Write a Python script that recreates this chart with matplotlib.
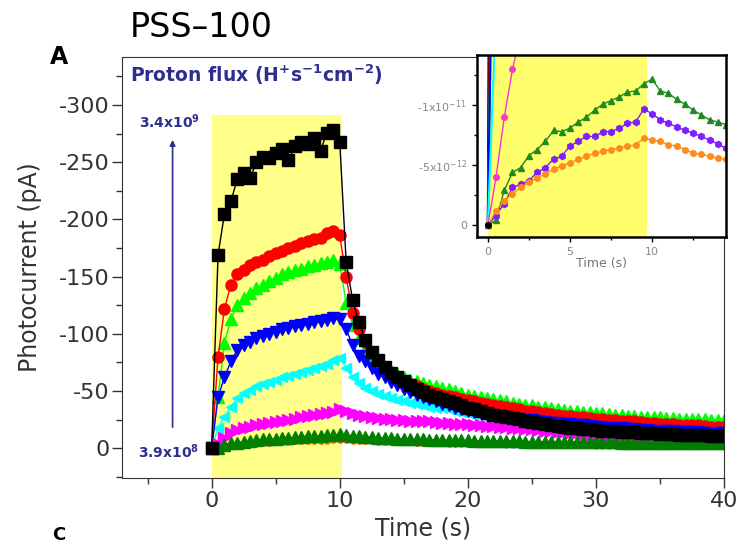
import numpy as np
import matplotlib
matplotlib.use('Agg')
import matplotlib.pyplot as plt
from matplotlib.ticker import MultipleLocator, FixedLocator

plt.rcParams['axes.unicode_minus'] = False
plt.rcParams['mathtext.default'] = 'regular'

# time grid (s), one sample every 0.5 s
time_s = np.arange(0, 40.5, 0.5)

# photocurrent (pA), one list per proton flux
black = [0, -169, -205, -216, -235, -241, -236, -250, -255, -254,
         -258, -262, -252, -264, -268, -266, -271, -260, -276, -278,
         -268, -163, -130, -110, -95, -84, -77, -71, -66, -62,
         -58.5, -55, -52, -49.5, -47, -45, -43.5, -41.5, -39.5, -37.5,
         -35.5, -34, -32.5, -31, -29.5, -28.5, -27.5, -26.5, -25.5, -24,
         -23, -22, -21, -20.5, -19.5, -19, -18, -17.5, -17, -16.5,
         -16, -15.5, -15.5, -15, -14.5, -14, -14, -13.5, -13, -13,
         -12.5, -12.5, -12.5, -12, -12, -12, -11.5, -11.5, -11, -11, -11]
red = [0, -80, -122, -143, -152, -156, -160, -163, -165, -168,
       -171, -172, -175, -177, -179, -181, -183, -184, -188, -190,
       -186, -150, -118, -104, -93, -83, -76, -70, -65, -61,
       -58, -56, -54, -52, -50, -48.5, -47, -45.5, -44.5, -43,
       -42, -41, -40, -39, -38, -37, -36, -35, -34, -33,
       -32.5, -31.5, -31, -30, -29.5, -28.5, -28, -27.5, -27, -26.5,
       -26, -25.5, -25, -24.5, -24, -23.5, -23.5, -23, -22.5, -22,
       -21.5, -21.5, -21, -20.5, -20.5, -20, -20, -19.5, -19, -19, -18.5]
green = [0, -45, -92, -113, -125, -131, -136, -140, -143, -146,
         -149, -152, -154, -156, -157, -159, -160, -162, -163, -165,
         -161, -127, -108, -96, -87, -80, -75, -71, -67.5, -64.5,
         -62, -60, -58.5, -57, -55.5, -54.5, -53, -51.5, -50, -48.5,
         -47, -46, -45, -44, -43, -42, -41, -40, -39, -38,
         -37.5, -36.5, -36, -35, -34.5, -33.5, -33, -32.5, -32, -31.5,
         -31, -30.5, -30, -29.5, -29, -28.5, -28, -27.5, -27.5, -27,
         -27, -26.5, -26.5, -26, -26, -25.5, -25.5, -25.5, -25, -25, -25]
blue = [0, -45, -62, -76, -86, -90, -93, -96, -98, -100,
        -102, -104, -105, -107, -108, -109, -110, -111, -112, -114,
        -113, -104, -90, -81, -76, -70, -65, -62, -58, -55,
        -52, -49.5, -47, -45, -43, -41, -39, -37.5, -35.5, -34,
        -33, -32, -31, -30, -29, -28, -27.5, -26.5, -26, -25,
        -24.5, -24, -23, -22.5, -22, -21.5, -21, -20.5, -20, -19.5,
        -19, -18.5, -18, -17.5, -17.5, -17, -16.5, -16, -16, -15.5,
        -15.5, -15, -15, -14.5, -14.5, -14, -14, -13.5, -13.5, -13, -13]
cyan = [0, -18, -27, -36, -44, -48, -51, -54, -56, -58,
        -60, -62, -63.5, -65, -66.5, -68, -70, -72, -74, -77,
        -79, -70, -62, -57, -53, -50, -47.5, -45.5, -44, -42.5,
        -41, -39.5, -38.5, -37.5, -36.5, -35.5, -35, -34, -33, -32,
        -31, -30, -29, -28, -27, -26, -25, -24.5, -23.5, -23,
        -22, -21.5, -21, -20.5, -20, -19.5, -19, -18.5, -18, -17.5,
        -17, -16.5, -16, -15.5, -15.5, -15, -14.5, -14.5, -14, -14,
        -13.5, -13.5, -13, -13, -12.5, -12.5, -12, -12, -11.5, -11.5, -11]
magenta = [0, -4, -9, -13, -16, -17.5, -19, -20, -21, -22,
           -23, -24, -25, -26, -27, -28, -29, -30, -31, -32,
           -34, -33, -31, -29.5, -28.5, -27.5, -26.5, -26, -25.5, -25,
           -24.5, -24, -24, -23.5, -23.5, -23, -22.5, -22, -21.5, -21,
           -21, -20.5, -20, -19.5, -19.5, -19, -18.5, -18, -17.5, -17,
           -16.5, -16, -15.5, -15, -14.5, -14, -13.5, -13, -12.5, -12,
           -11.5, -11, -10.5, -10, -9.5, -9, -8.5, -8, -8, -7.5,
           -7.5, -7, -7, -7, -6.5, -6.5, -6.5, -6, -6, -6, -6]
dkgreen = [0, -0.4, -2.9, -4.4, -4.8, -5.8, -6.3, -7.0, -7.9, -7.8,
           -8.1, -8.6, -9.0, -9.6, -10.1, -10.4, -10.7, -11.1, -11.2, -11.8,
           -12.2, -11.2, -11.0, -10.5, -10.1, -9.6, -9.2, -8.8, -8.6, -8.4,
           -8.2, -8.0, -7.9, -7.7, -7.6, -7.4, -7.3, -7.1, -7.0, -6.9,
           -6.8, -6.7, -6.6, -6.5, -6.4, -6.3, -6.2, -6.1, -6.0, -5.9,
           -5.8, -5.8, -5.7, -5.6, -5.6, -5.5, -5.4, -5.4, -5.3, -5.3,
           -5.2, -5.2, -5.1, -5.1, -5.0, -5.0, -4.9, -4.9, -4.8, -4.8,
           -4.7, -4.7, -4.6, -4.6, -4.5, -4.5, -4.4, -4.4, -4.3, -4.3, -4.3]
purple = [0, -0.8, -1.8, -3.15, -3.4, -3.7, -4.4, -4.8, -5.5, -5.75,
          -6.6, -7.0, -7.4, -7.4, -7.8, -7.8, -8.1, -8.5, -8.6, -9.7,
          -9.3, -8.8, -8.5, -8.2, -7.9, -7.7, -7.4, -7.1, -6.8, -6.4,
          -6.2, -6.0, -5.8, -5.6, -5.5, -5.3, -5.2, -5.0, -4.9, -4.8,
          -4.7, -4.6, -4.5, -4.4, -4.3, -4.2, -4.1, -4.0, -3.9, -3.9,
          -3.8, -3.7, -3.7, -3.6, -3.5, -3.5, -3.4, -3.4, -3.3, -3.3,
          -3.2, -3.2, -3.1, -3.1, -3.0, -3.0, -3.0, -2.9, -2.9, -2.9,
          -2.8, -2.8, -2.8, -2.7, -2.7, -2.7, -2.6, -2.6, -2.6, -2.5, -2.5]
orange = [0, -1.2, -2.05, -2.6, -3.15, -3.56, -3.97, -4.25, -4.66, -4.93,
          -5.2, -5.48, -5.75, -6.0, -6.16, -6.3, -6.44, -6.58, -6.7, -7.26,
          -7.1, -7.0, -6.7, -6.6, -6.3, -6.0, -5.9, -5.75, -5.6, -5.5,
          -5.3, -5.2, -5.0, -4.9, -4.8, -4.6, -4.5, -4.4, -4.3, -4.2,
          -4.1, -4.0, -3.9, -3.8, -3.7, -3.6, -3.6, -3.5, -3.4, -3.4,
          -3.3, -3.2, -3.2, -3.1, -3.1, -3.0, -3.0, -2.9, -2.9, -2.8,
          -2.8, -2.8, -2.7, -2.7, -2.6, -2.6, -2.6, -2.5, -2.5, -2.5,
          -2.4, -2.4, -2.4, -2.3, -2.3, -2.3, -2.2, -2.2, -2.2, -2.1, -2.1]

# light on / off (s)
light_on = 0
light_off = 10.2
light_off_inset = 9.7
light_box_top = -291

flux_high = '3.4x10$^9$'
flux_low = '3.9x10$^8$'
arrow_x, arrow_from, arrow_to = -3.05, -16, -272

navy = '#2E2E8F'
gray = '#333333'

# series drawn in this order: (values, colour, marker, size)
series = [
    (green, '#00FF00', '^', 8),
    (red, '#FF0000', 'o', 8),
    (cyan, '#00FFFF', '<', 7.5),
    (blue, '#0000FF', 'v', 8),
    (magenta, '#FF00FF', '>', 8.5),
    (orange, '#FF8000', 'o', 4),
    (purple, '#7F00FF', 'h', 5),
    (dkgreen, '#007F00', '^', 8.5),
    (black, '#000000', 's', 9),
]

fig = plt.figure(figsize=(7.37, 5.45), dpi=100)
ax = fig.add_axes([0.1655, 0.1229, 0.8169, 0.7725])

ax.fill_between([light_on, light_off], 40, light_box_top, color='#FFFF8A', lw=0, zorder=0)
for vals, col, mk, ms in series:
    ax.plot(time_s, vals, color=col, marker=mk, ms=ms, mec=col, mfc=col, lw=1)

ax.set_xlim(-7, 40)
ax.set_ylim(26, -342)
ax.xaxis.set_major_locator(MultipleLocator(10))
ax.xaxis.set_minor_locator(MultipleLocator(5))
ax.yaxis.set_major_locator(FixedLocator([0, -50, -100, -150, -200, -250, -300]))
ax.yaxis.set_minor_locator(MultipleLocator(25))
ax.tick_params(which='both', direction='out', colors=gray, labelsize=16, width=1)
ax.tick_params(which='major', length=7, pad=2)
ax.tick_params(which='minor', length=4)
for sp in ax.spines.values():
    sp.set_color(gray)
ax.set_xlabel('Time (s)', fontsize=17, color=gray, labelpad=4)
ax.set_ylabel('Photocurrent (pA)', fontsize=17, color=gray, labelpad=12)

ax.annotate('', xy=(arrow_x, arrow_to), xytext=(arrow_x, arrow_from),
            arrowprops=dict(arrowstyle='-|>', color=navy, lw=1.2, mutation_scale=8))

fig.text(130 / 737, 1 - 37 / 545, 'PSS\u2013100', fontsize=24, va='baseline')
fig.text(50 / 737, 1 - 64 / 545, 'A', fontsize=17, fontweight='bold', va='baseline')
fig.text(52 / 737, 0.002, 'C', fontsize=13, fontweight='bold', va='bottom')
fig.text(130 / 737, 1 - 82 / 545, 'Proton flux (H$^{+}$s$^{-1}$cm$^{-2}$)',
         fontsize=13.5, fontweight='bold', color=navy, va='baseline')
fig.text(170 / 737, 1 - 122 / 545, flux_high, fontsize=10, fontweight='bold',
         color=navy, ha='center', va='center')
fig.text(169 / 737, 1 - 452 / 545, flux_low, fontsize=10, fontweight='bold',
         color=navy, ha='center', va='center')

# inset: first seconds, in A
axi = fig.add_axes([0.647, 0.565, 0.338, 0.334])
axi.axvspan(light_on, light_off_inset, color='#FFFF6E', lw=0, zorder=0)
t_in = time_s
for vals, col, mk in [(black, '#000000', 's'), (red, '#8B0000', 'o'), (green, '#00FF00', '^'),
                      (blue, '#0000FF', 'v'), (cyan, '#00FFFF', '<')]:
    axi.plot(t_in, np.array(vals) * 1e-12, color=col, lw=1.5, marker=mk, ms=3, mec=col)
for vals, col, mk, ms in [(magenta, '#FF33CC', 'o', 4), (dkgreen, '#1F8A1F', '^', 4.5),
                          (purple, '#7F1FFF', 'h', 4.5), (orange, '#FF8C1A', 'o', 4)]:
    axi.plot(t_in, np.array(vals) * 1e-12, color=col, lw=1, marker=mk, ms=ms, mec=col)
axi.plot([0], [0], 'ko', ms=4)

axi.set_xlim(-0.67, 14.5)
axi.set_ylim(1.0e-12, -1.42e-11)
axi.xaxis.set_major_locator(FixedLocator([0, 5, 10]))
axi.xaxis.set_minor_locator(MultipleLocator(2.5))
axi.set_yticks([0, -5e-12, -1e-11])
axi.set_yticklabels(['0', '-5x10$^{-12}$', '-1x10$^{-11}$'])
axi.yaxis.set_minor_locator(MultipleLocator(2.5e-12))
axi.tick_params(which='both', direction='out', labelsize=8, labelcolor='#888888', width=1)
axi.tick_params(which='major', length=3.5)
axi.tick_params(which='minor', length=2)
for sp in axi.spines.values():
    sp.set_linewidth(1.8)
axi.set_xlabel('Time (s)', fontsize=9, color='#777777', labelpad=0)

plt.savefig('out.png', dpi=100)
